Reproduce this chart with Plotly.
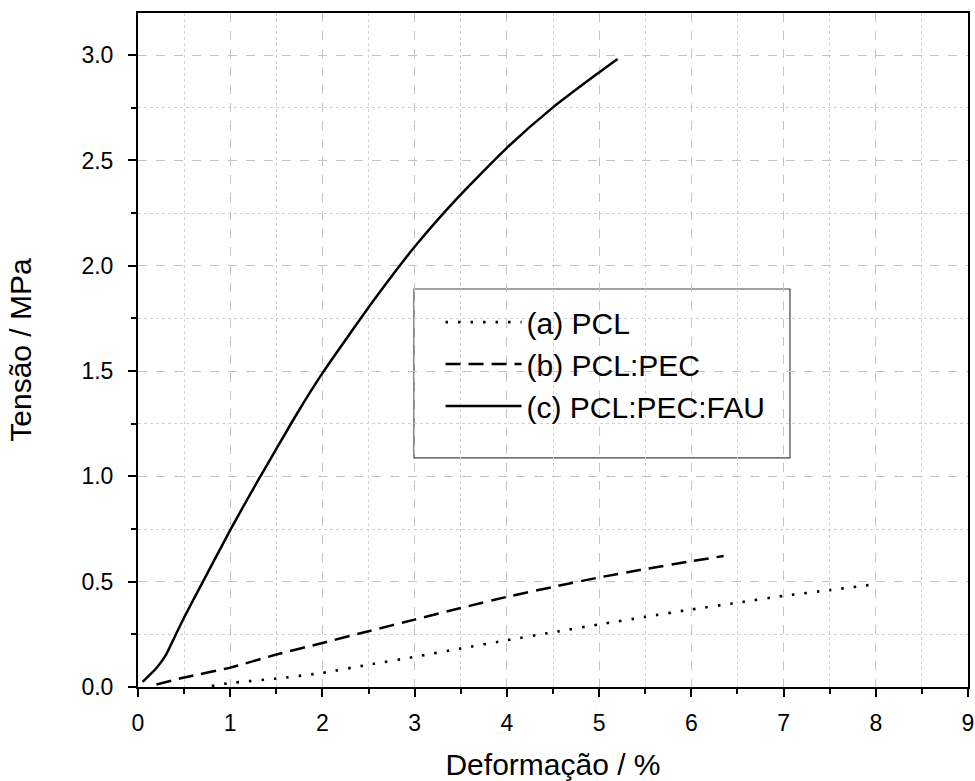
import plotly.graph_objects as go

pcl_x = [0.8, 1.0, 1.5, 2.0, 2.5, 3.0, 3.5, 4.0, 4.5, 5.0, 5.5, 6.0, 6.5, 7.0, 7.5, 8.0]
pcl_y = [0.005, 0.019, 0.040, 0.067, 0.106, 0.143, 0.183, 0.222, 0.260, 0.297, 0.333, 0.368, 0.400, 0.433, 0.460, 0.488]

pec_x = [0.2, 0.5, 1.0, 1.5, 2.0, 2.5, 3.0, 3.5, 4.0, 4.5, 5.0, 5.5, 6.0, 6.35]
pec_y = [0.012, 0.045, 0.092, 0.154, 0.209, 0.265, 0.320, 0.375, 0.428, 0.475, 0.520, 0.560, 0.597, 0.622]

fau_x = [0.05, 0.2, 0.3, 0.4, 0.5, 0.68, 1.0, 1.3, 1.5, 1.72, 2.0, 2.58, 3.0, 3.45, 4.0, 4.5, 5.0, 5.2]
fau_y = [0.024, 0.09, 0.15, 0.24, 0.33, 0.48, 0.745, 0.98, 1.13, 1.295, 1.49, 1.85, 2.09, 2.315, 2.56, 2.752, 2.918, 2.982]

names = ["(a) PCL", "(b) PCL:PEC", "(c) PCL:PEC:FAU"]

FONT = "Liberation Sans, Arial, sans-serif"

fig = go.Figure()
fig.add_trace(go.Scatter(x=pcl_x, y=pcl_y, mode="lines", name=names[0],
                         line=dict(color="black", width=2.6, dash="2.5px,10px", shape="spline", smoothing=0.6)))
fig.add_trace(go.Scatter(x=pec_x, y=pec_y, mode="lines", name=names[1],
                         line=dict(color="black", width=2.5, dash="15px,8px", shape="spline", smoothing=0.6)))
fig.add_trace(go.Scatter(x=fau_x, y=fau_y, mode="lines", name=names[2],
                         line=dict(color="black", width=2.5, shape="spline", smoothing=0.6)))

# legend box
fig.add_shape(type="rect", xref="paper", yref="paper",
              x0=0.3325, x1=0.7855, y0=0.3398, y1=0.5905,
              line=dict(color="#444444", width=1.2), fillcolor="white", layer="between")

grid_major = dict(showgrid=True, gridcolor="#c4c4c4", gridwidth=1, griddash="dash")

fig.update_xaxes(range=[0, 9], dtick=1, tick0=0, ticks="outside", ticklen=8, tickwidth=2,
                 tickcolor="black", showline=True, linecolor="black", linewidth=2, mirror=True,
                 zeroline=False, automargin=False, ticklabelstandoff=6, **grid_major,
                 minor=dict(dtick=0.5, ticks="outside", ticklen=5, tickwidth=2, tickcolor="black",
                            showgrid=True, gridcolor="#d2d2d2", griddash="dot", gridwidth=1),
                 title=dict(text="Deformação / %", font=dict(size=30, family=FONT, color="black"), standoff=25),
                 tickfont=dict(size=23, family=FONT, color="black"))
fig.update_yaxes(range=[0, 3.2], dtick=0.5, tick0=0, tickformat=".1f", ticks="outside", ticklen=8, tickwidth=2,
                 tickcolor="black", showline=True, linecolor="black", linewidth=2, mirror=True,
                 zeroline=False, automargin=False, ticklabelstandoff=10, **grid_major,
                 minor=dict(dtick=0.25, ticks="outside", ticklen=5, tickwidth=2, tickcolor="black",
                            showgrid=True, gridcolor="#d2d2d2", griddash="dot", gridwidth=1),
                 title=dict(text="Tensão / MPa", font=dict(size=30, family=FONT, color="black"), standoff=41),
                 tickfont=dict(size=23, family=FONT, color="black"))

fig.update_layout(
    width=975, height=781,
    margin=dict(l=138, r=7, t=13, b=94),
    plot_bgcolor="white", paper_bgcolor="white",
    font=dict(family=FONT, color="black"),
    showlegend=True,
    legend=dict(x=0.3645, y=0.58, xanchor="left", yanchor="top",
                bgcolor="rgba(0,0,0,0)", borderwidth=0,
                font=dict(size=30, family=FONT, color="black"),
                itemwidth=76, tracegroupgap=0),
)

fig.write_html("out.html", config={"displayModeBar": False},
               post_script="document.body.style.margin='0px';document.body.style.overflow='hidden';")
